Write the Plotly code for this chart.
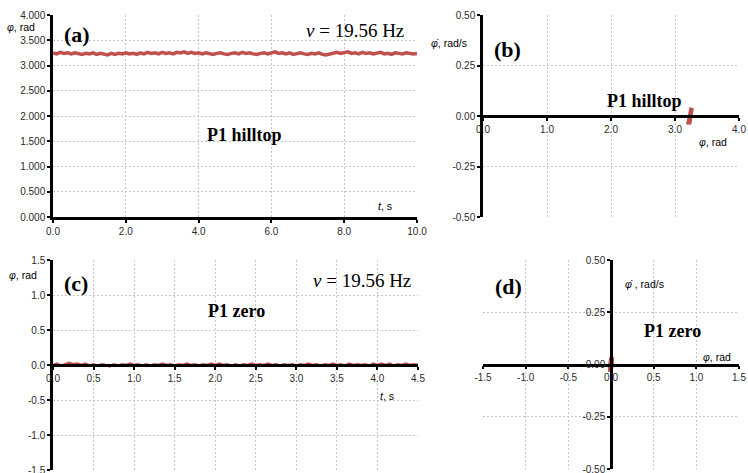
import numpy as np
import plotly.graph_objects as go

W, H = 748, 473

# ---- data ----
phi_hilltop = [3.25,3.23,3.26,3.24,3.25,3.23,3.25,3.24,3.22,3.24,
               3.23,3.25,3.22,3.24,3.23,3.21,3.24,3.22,3.24,3.23,
               3.25,3.23,3.24,3.22,3.25,3.23,3.26,3.24,3.25,3.23,
               3.26,3.24,3.25,3.23,3.26,3.25,3.27,3.24,3.26,3.24,
               3.25,3.23,3.25,3.24,3.22,3.24,3.25,3.23,3.22,3.24,
               3.25,3.23,3.26,3.24,3.25,3.23,3.22,3.24,3.25,3.23,
               3.25,3.27,3.24,3.25,3.23,3.25,3.22,3.24,3.25,3.23,
               3.22,3.24,3.23,3.25,3.22,3.21,3.23,3.24,3.26,3.24,
               3.25,3.27,3.24,3.25,3.23,3.26,3.24,3.25,3.23,3.24,
               3.26,3.23,3.24,3.22,3.25,3.24,3.23,3.25,3.24,3.23,3.24]
t_hilltop = np.linspace(0, 10, len(phi_hilltop))

phi_zero = [0.00,0.02,-0.01,0.01,0.03,0.01,0.02,0.00,0.02,-0.01,
            0.01,-0.01,0.01,0.00,-0.02,0.01,-0.01,0.01,0.00,0.02,
            0.00,0.01,-0.01,0.01,-0.01,0.01,0.00,0.02,0.00,0.01,
            -0.01,0.01,0.00,0.02,0.00,0.01,-0.01,0.01,0.00,0.02,
            0.00,0.02,0.00,0.01,-0.01,0.01,-0.01,0.01,0.00,0.02,
            0.00,0.01,0.00,0.02,0.00,0.01,-0.01,0.01,0.00,0.01,
            -0.01,0.01,0.00,0.02,0.00,0.01,-0.01,0.01,0.00,0.02,
            0.00,0.01,-0.01,0.02,0.00,0.01,0.00,0.01,-0.01,0.02,
            0.00,0.02,0.00,0.02,-0.01,0.01,0.00,0.02,0.00,0.01,0.00]
t_zero = np.linspace(0, 4.5, len(phi_zero))

pp_hill_phi = [3.21,3.22,3.23,3.24,3.25,3.26,3.25,3.24,3.23,3.22,3.21,3.21]
pp_hill_dot = [-0.03,-0.04,-0.02,0.00,0.02,0.04,0.03,0.02,0.00,-0.02,-0.04,-0.03]

pp_zero_phi = [-0.01,0.00,0.01,0.01,0.01,0.00,-0.01,-0.01]
pp_zero_dot = [-0.035,-0.02,0.00,0.02,0.035,0.02,-0.01,-0.035]

# tick values / labels
a_xticks = [0, 2, 4, 6, 8, 10]
a_xlabels = ["0.0", "2.0", "4.0", "6.0", "8.0", "10.0"]
a_yticks = [0, 0.5, 1, 1.5, 2, 2.5, 3, 3.5, 4]
a_ylabels = ["0.000", "0.500", "1.000", "1.500", "2.000", "2.500", "3.000", "3.500", "4.000"]
b_xticks = [0, 1, 2, 3, 4]
b_xlabels = ["0.0", "1.0", "2.0", "3.0", "4.0"]
pp_yticks = [-0.5, -0.25, 0, 0.25, 0.5]
pp_ylabels = ["-0.50", "-0.25", "0.00", "0.25", "0.50"]
c_xticks = [0, 0.5, 1, 1.5, 2, 2.5, 3, 3.5, 4, 4.5]
c_xlabels = ["0.0", "0.5", "1.0", "1.5", "2.0", "2.5", "3.0", "3.5", "4.0", "4.5"]
c_yticks = [-1.5, -1, -0.5, 0, 0.5, 1, 1.5]
c_ylabels = ["-1.5", "-1.0", "-0.5", "0.0", "0.5", "1.0", "1.5"]
d_xticks = [-1.5, -1, -0.5, 0, 0.5, 1, 1.5]
d_xlabels = ["-1.5", "-1.0", "-0.5", "0.0", "0.5", "1.0", "1.5"]

RED = "#c0504d"

def px(x):
    return x / W

def py(y):
    return 1 - y / H

fig = go.Figure()
fig.add_trace(go.Scatter(x=t_hilltop, y=phi_hilltop, mode="lines",
                         line=dict(color=RED, width=3.5), xaxis="x", yaxis="y"))
fig.add_trace(go.Scatter(x=pp_hill_phi, y=pp_hill_dot, mode="lines",
                         line=dict(color=RED, width=4.5), xaxis="x2", yaxis="y2"))
fig.add_trace(go.Scatter(x=t_zero, y=phi_zero, mode="lines",
                         line=dict(color=RED, width=2.5), xaxis="x3", yaxis="y3"))
fig.add_trace(go.Scatter(x=pp_zero_phi, y=pp_zero_dot, mode="lines",
                         line=dict(color=RED, width=4.5), xaxis="x4", yaxis="y4"))

tickfont = dict(family="Liberation Sans", size=10, color="#2a2a2a")
common = dict(showgrid=True, gridcolor="#c4c4c4", griddash="2px,2px", gridwidth=1,
              showline=True, linecolor="black", linewidth=2.5, zeroline=False,
              ticks="outside", ticklen=3, tickwidth=1.5, tickcolor="black",
              tickfont=tickfont, fixedrange=True, automargin=False,
              tickmode="array", ticklabeloverflow="allow")

# domains
a_x = [px(53), px(417)]; a_y = [py(217), py(15)]
b_x = [px(483), px(739)]; b_y = [py(217), py(15)]
c_x = [px(53), px(418)]; c_y = [py(470), py(260)]
d_x = [px(483), px(739)]; d_y = [py(469), py(260)]

fig.update_layout(
    width=W, height=H, margin=dict(l=0, r=0, t=0, b=0, pad=0),
    paper_bgcolor="white", plot_bgcolor="white", showlegend=False,
    xaxis=dict(domain=a_x, range=[0, 10], tickvals=a_xticks, ticktext=a_xlabels,
               anchor="y", **common),
    yaxis=dict(domain=a_y, range=[0, 4], tickvals=a_yticks, ticktext=a_ylabels,
               anchor="x", **common),
    xaxis2=dict(domain=b_x, range=[0, 4], tickvals=b_xticks, ticktext=b_xlabels,
                anchor="free", position=(b_y[0] + b_y[1]) / 2, **common),
    yaxis2=dict(domain=b_y, range=[-0.5, 0.5], tickvals=pp_yticks, ticktext=pp_ylabels,
                anchor="x2", **common),
    xaxis3=dict(domain=c_x, range=[0, 4.5], tickvals=c_xticks, ticktext=c_xlabels,
                anchor="free", position=(c_y[0] + c_y[1]) / 2, **common),
    yaxis3=dict(domain=c_y, range=[-1.5, 1.5], tickvals=c_yticks, ticktext=c_ylabels,
                anchor="x3", **common),
    xaxis4=dict(domain=d_x, range=[-1.5, 1.5], tickvals=d_xticks, ticktext=d_xlabels,
                anchor="free", position=(d_y[0] + d_y[1]) / 2, **common),
    yaxis4=dict(domain=d_y, range=[-0.5, 0.5], tickvals=pp_yticks, ticktext=pp_ylabels,
                anchor="free", position=(d_x[0] + d_x[1]) / 2, **common),
)

sans = "Liberation Sans"
serif = "Liberation Serif"

def ann(text, x, y, size, family, xanchor="left", color="black"):
    fig.add_annotation(text=text, x=px(x), y=py(y), xref="paper", yref="paper",
                       xanchor=xanchor, yanchor="middle", showarrow=False,
                       font=dict(family=family, size=size, color=color))

# (a)
ann("<i>φ</i>, rad", 5, 27, 10.5, sans)
ann("<b>(a)</b>", 62, 34, 22, serif)
ann("<i>v</i> = 19.56 Hz", 406, 31, 19, serif, xanchor="right")
ann("<b>P1 hilltop</b>", 244, 135, 18, serif, xanchor="center")
ann("<i>t</i>, s", 376, 206, 10.5, sans)
# (b)
ann("<i>φ̇</i>, rad/s", 429, 43, 10.5, sans)
ann("<b>(b)</b>", 492, 50, 22, serif)
ann("<b>P1 hilltop</b>", 644, 101, 18, serif, xanchor="center")
ann("<i>φ</i>, rad", 697, 142, 10.5, sans)
# (c)
ann("<i>φ</i>, rad", 7, 275, 10.5, sans)
ann("<b>(c)</b>", 62, 283, 22, serif)
ann("<i>v</i> = 19.56 Hz", 413, 280, 19, serif, xanchor="right")
ann("<b>P1 zero</b>", 236, 311, 18, serif, xanchor="center")
ann("<i>t</i>, s", 378, 396, 10.5, sans)
# (d)
ann("<b>(d)</b>", 493, 286, 22, serif)
ann("<i>φ̇</i> , rad/s", 623, 284, 10.5, sans)
ann("<b>P1 zero</b>", 672, 331, 18, serif, xanchor="center")
ann("<i>φ</i>, rad", 701, 357, 10.5, sans)

fig.write_html("out.html", config={"displayModeBar": False},
               post_script="document.body.style.margin='0px';document.body.style.overflow='hidden';")
